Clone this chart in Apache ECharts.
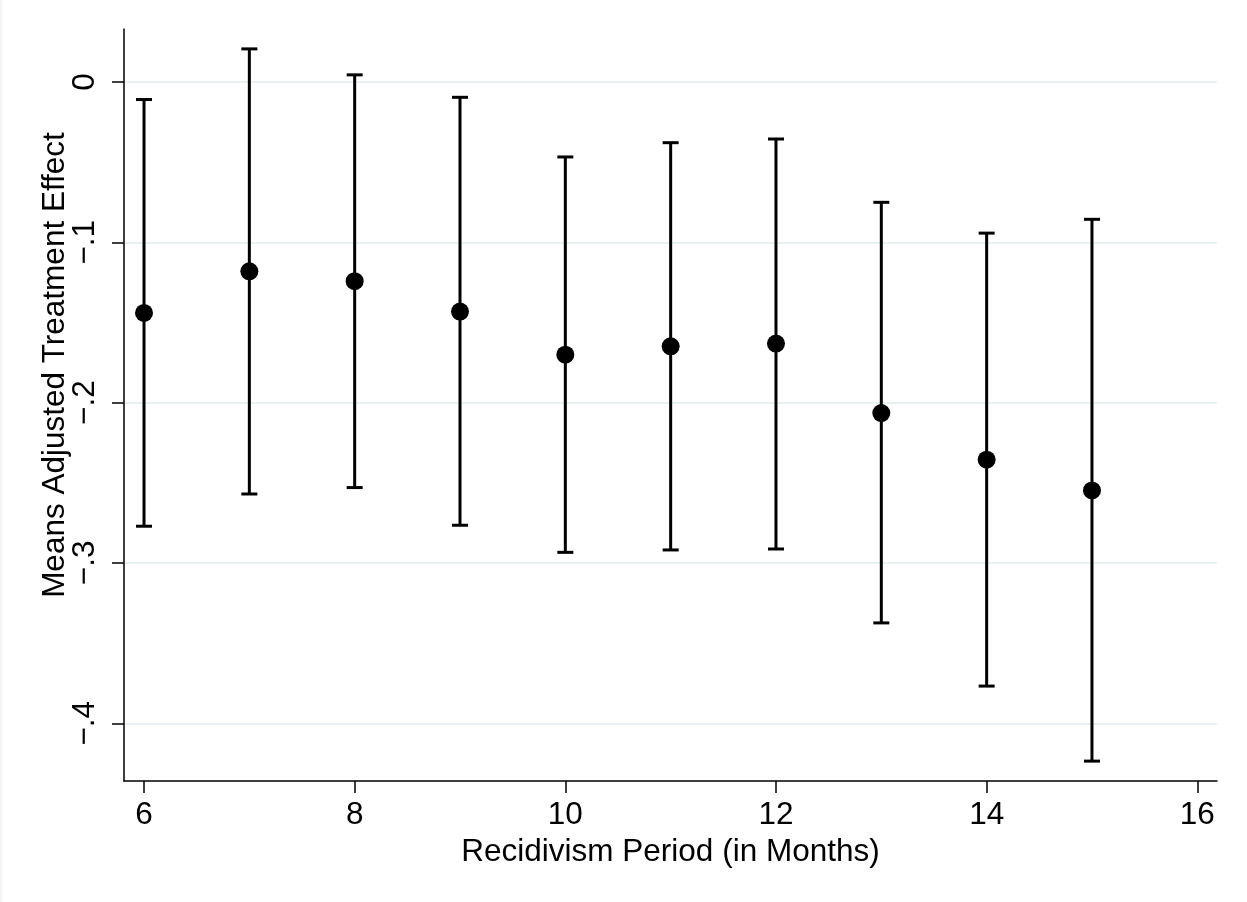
<!DOCTYPE html>
<html>
<head>
<meta charset="utf-8">
<script src="https://cdn.jsdelivr.net/npm/echarts@6/dist/echarts.min.js"></script>
<style>
html,body{margin:0;padding:0;background:#fff;}
#chart{width:1247px;height:902px;}
</style>
</head>
<body>
<div id="chart"></div>
<script>
var months = [6, 7, 8, 9, 10, 11, 12, 13, 14, 15];
var effect = [-0.1441, -0.1181, -0.1243, -0.1432, -0.1701, -0.1649, -0.1632, -0.2065, -0.2356, -0.2548];
var upper  = [-0.0110,  0.0206,  0.0044, -0.0096, -0.0468, -0.0379, -0.0356, -0.0751, -0.0943, -0.0857];
var lower  = [-0.2771, -0.2570, -0.2530, -0.2765, -0.2934, -0.2919, -0.2913, -0.3374, -0.3768, -0.4236];
var xTicks = [6, 8, 10, 12, 14, 16];
var yTicks = [0, -0.1, -0.2, -0.3, -0.4];
var xTitle = 'Recidivism Period (in Months)';
var yTitle = 'Means Adjusted Treatment Effect';

var font = '"Liberation Sans", Arial, sans-serif';

function yFmt(v) {
  if (Math.abs(v) < 1e-9) return '0';
  var s = Math.abs(v).toFixed(1).replace(/^0/, '');
  return (v < 0 ? '\u2212' : '') + s;
}

var barData = months.map(function (m, i) { return [m, lower[i], upper[i]]; });
var pointData = months.map(function (m, i) { return [m, effect[i]]; });

var chart = echarts.init(document.getElementById('chart'), null, {renderer: 'canvas'});
chart.setOption({
  backgroundColor: '#ffffff',
  animation: false,
  grid: {left: 124, right: 30, top: 29, bottom: 121, containLabel: false},
  xAxis: {
    type: 'value', min: 5.81, max: 16.187,
    name: xTitle, nameLocation: 'middle', nameGap: 52,
    nameTextStyle: {fontFamily: font, fontSize: 31.5, color: '#000'},
    axisLine: {show: true, onZero: false, lineStyle: {color: '#000', width: 1.5}},
    axisTick: {show: true, length: 12, lineStyle: {color: '#000', width: 1.5}, customValues: xTicks},
    axisLabel: {fontFamily: font, fontSize: 31.5, color: '#000', margin: 18, customValues: xTicks,
      formatter: function (v) { return String(v); }},
    splitLine: {show: false}
  },
  yAxis: {
    type: 'value', min: -0.436, max: 0.033,
    axisLine: {show: true, onZero: false, lineStyle: {color: '#000', width: 1.5}},
    axisTick: {show: true, length: 12, lineStyle: {color: '#000', width: 1.5}, customValues: yTicks},
    axisLabel: {fontFamily: font, fontSize: 31.5, color: '#000', margin: 23, rotate: 90, customValues: yTicks,
      formatter: yFmt},
    splitLine: {show: true, lineStyle: {color: '#e8f1f2', width: 2}}
  },
  graphic: [
    {type: 'line', shape: {x1: 1, y1: 0, x2: 1, y2: 902}, style: {stroke: '#ececec', lineWidth: 1}, silent: true},
    {type: 'text', x: 55, y: 365, rotation: Math.PI / 2, silent: true,
      style: {text: yTitle, font: '31.5px ' + font, fill: '#000', textAlign: 'center', textVerticalAlign: 'middle'}}
  ],
  series: [
    {
      type: 'custom',
      data: barData,
      z: 2,
      renderItem: function (params, api) {
        var x = api.value(0);
        var lo = api.coord([x, api.value(1)]);
        var hi = api.coord([x, api.value(2)]);
        var hw = 8;
        var st = {stroke: '#000', lineWidth: 3, fill: null};
        return {
          type: 'group',
          children: [
            {type: 'line', shape: {x1: lo[0], y1: lo[1], x2: hi[0], y2: hi[1]}, style: st},
            {type: 'line', shape: {x1: hi[0] - hw, y1: hi[1], x2: hi[0] + hw, y2: hi[1]}, style: st},
            {type: 'line', shape: {x1: lo[0] - hw, y1: lo[1], x2: lo[0] + hw, y2: lo[1]}, style: st}
          ]
        };
      }
    },
    {
      type: 'scatter',
      data: pointData,
      symbol: 'circle',
      symbolSize: 18,
      z: 3,
      itemStyle: {color: '#000', opacity: 1}
    }
  ]
});
</script>
</body>
</html>
